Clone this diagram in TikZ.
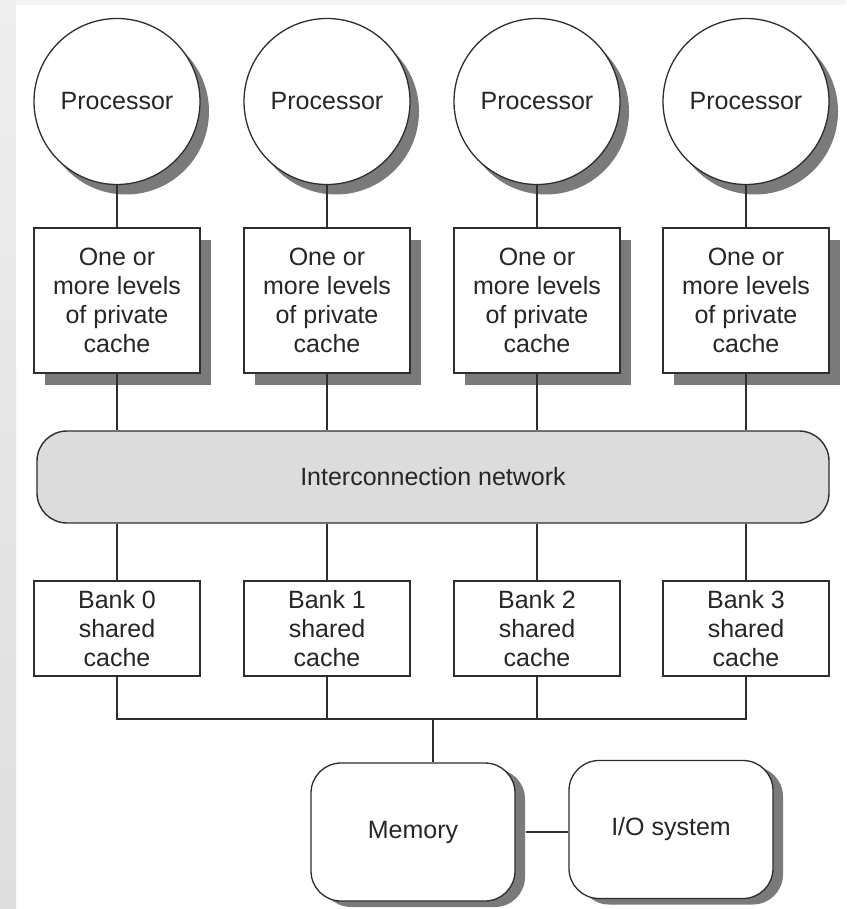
\documentclass[tikz,border=0pt]{standalone}
\usepackage{fontspec}
\setmainfont{Liberation Sans}
\usetikzlibrary{shadows}
\definecolor{ln}{HTML}{2E2E2E}
\definecolor{txt}{HTML}{262626}
\definecolor{shd}{HTML}{7A7A7A}
\definecolor{netfill}{HTML}{DCDCDC}
\definecolor{pagetop}{HTML}{F4F4F4}
\definecolor{stripa}{HTML}{EEEEEE}
\definecolor{stripb}{HTML}{DEDEDE}
\begin{document}
\begin{tikzpicture}[x=1pt,y=-1pt,
  every node/.style={font=\fontsize{25}{29}\selectfont, text=txt, align=center},
  proc/.style={circle, draw=ln, line width=1.3pt, fill=white,
    minimum size=166pt, inner sep=0pt,
    drop shadow={shadow xshift=9pt, shadow yshift=-10pt, fill=shd, opacity=1}},
  privbox/.style={rectangle, draw=ln, line width=1.4pt, fill=white,
    minimum width=166pt, minimum height=145pt, inner sep=0pt,
    drop shadow={shadow xshift=11pt, shadow yshift=-12pt, fill=shd, opacity=1}},
  bankbox/.style={rectangle, draw=ln, line width=1.4pt, fill=white,
    minimum width=166pt, minimum height=95pt, inner sep=0pt},
  netbox/.style={rectangle, rounded corners=30pt, draw=ln, line width=1.4pt,
    fill=netfill, minimum width=792pt, minimum height=92pt, inner sep=0pt},
  sysbox/.style={rectangle, rounded corners=30pt, draw=ln, line width=1.3pt,
    fill=white, minimum width=204pt, minimum height=138pt, inner sep=0pt,
    drop shadow={shadow xshift=10pt, shadow yshift=-6pt, fill=shd, opacity=1}},
  thin/.style={draw=ln, line width=1.3pt},
  thick/.style={draw=ln, line width=2.6pt},
]
\useasboundingbox (0,0) rectangle (846,909);
% page background
\fill[white] (0,0) rectangle (846,909);
\fill[pagetop] (16,0) rectangle (846,5);
\shade[top color=stripa, bottom color=stripb] (0,0) rectangle (16,909);

% processors and their private caches
\foreach \i/\x in {0/117,1/327,2/537,3/746} {
  \node[proc] (p\i) at (\x,101.5) {Processor};
  \node[privbox] (c\i) at (\x,300.5) {One or\\more levels\\of private\\cache};
}

% interconnection network
\node[netbox] (net) at (433,477) {Interconnection network};

% shared cache banks
\foreach \i/\x in {0/117,1/327,2/537,3/746} {
  \node[bankbox] (b\i) at (\x,628.5) {Bank \i\\shared\\cache};
}

% memory and I/O
\node[sysbox] (mem) at (413,832) {Memory};
\node[sysbox] (io) at (671,829.5) {I/O system};

% connectors
\foreach \i in {0,1,2,3} {
  \draw[thin] (p\i.south) -- (c\i.north);
  \draw[thick] (c\i.south) -- (c\i.south |- net.north);
  \draw[thick] (b\i.north |- net.south) -- (b\i.north);
}
\coordinate (tap) at (433,719);
\draw[thin] (b0.south) -- (b0.south |- tap) -- (b3.south |- tap) -- (b3.south);
\draw[thin] (b1.south) -- (b1.south |- tap);
\draw[thin] (b2.south) -- (b2.south |- tap);
\draw[thick] (tap) -- (tap |- mem.north);
\draw[thin] ([xshift=10pt]mem.east) -- (io.west |- mem.east);
\end{tikzpicture}
\end{document}
